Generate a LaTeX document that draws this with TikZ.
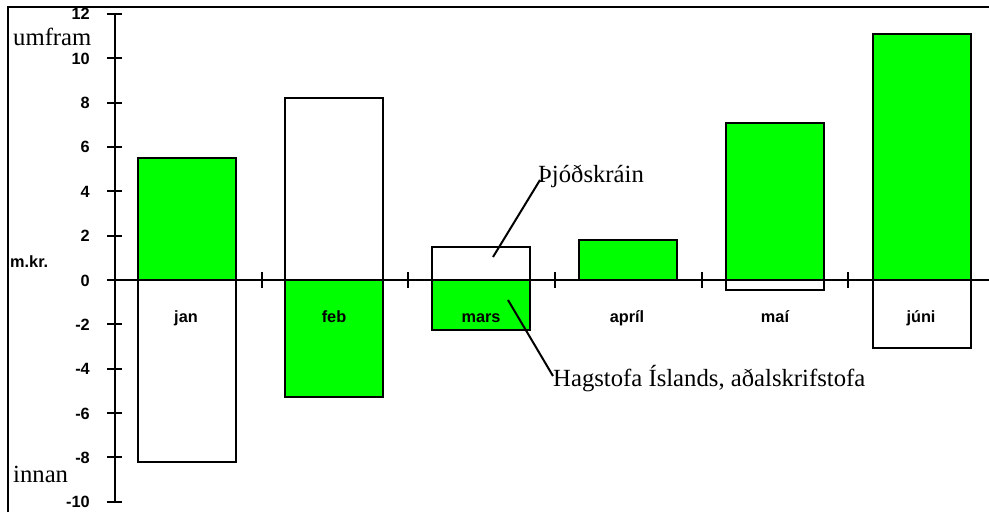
\documentclass[tikz,border=0pt]{standalone}
\usepackage{fontspec}
\setmainfont{Liberation Serif}
\setsansfont{Liberation Sans}
\definecolor{bargreen}{RGB}{0,255,0}
\begin{document}
\begin{tikzpicture}[x=1pt,y=-1pt,
  axisline/.style={line width=2pt},
  greenbar/.style={draw=black,line width=2pt,fill=bargreen},
  whitebar/.style={draw=black,line width=2pt,fill=white},
  numlbl/.style={font=\fontsize{16.3}{18}\selectfont\sffamily\bfseries,inner sep=0pt,anchor=base east},
  catlbl/.style={font=\fontsize{16.3}{18}\selectfont\sffamily\bfseries,inner sep=0pt,anchor=base},
  serlbl/.style={font=\fontsize{24.7}{28}\selectfont,inner sep=0pt,anchor=base west},
  leader/.style={line width=2pt}]
\useasboundingbox (0,0) rectangle (989,512);
\fill[white] (0,0) rectangle (989,512);
% frame
\draw[axisline] (8,512) -- (8,7) -- (989,7);
% bars
\draw[greenbar] (138,280) rectangle (236,158);
\draw[whitebar] (138,280) rectangle (236,462);
\draw[whitebar] (285,280) rectangle (383,98);
\draw[greenbar] (285,280) rectangle (383,397);
\draw[whitebar] (432,280) rectangle (530,247);
\draw[greenbar] (432,280) rectangle (530,330);
\draw[greenbar] (579,280) rectangle (677,240);
\draw[greenbar] (726,280) rectangle (824,123);
\draw[whitebar] (726,280) rectangle (824,290);
\draw[greenbar] (873,280) rectangle (971,34);
\draw[whitebar] (873,280) rectangle (971,348);
% y axis
\draw[axisline] (115,13.8) -- (115,501.8);
\foreach \v in {12,10,...,-10}{
  \pgfmathsetmacro\yy{280-22.18*\v}
  \draw[axisline] (107,\yy) -- (122,\yy);
  \node[numlbl] (n\v) at (90,\yy+6) {\v};
}
% zero line and category ticks
\draw[axisline] (107,280) -- (989,280);
\foreach \xx in {262,408,555,702,848}{
  \draw[axisline] (\xx,272) -- (\xx,288);
}
% category labels
\node[catlbl] (cjan) at (186,322) {jan};
\node[catlbl] (cfeb) at (334,322) {feb};
\node[catlbl] (cmar) at (481,322) {mars};
\node[catlbl] (capr) at (627,322) {apríl};
\node[catlbl] (cmai) at (775,322) {maí};
\node[catlbl] (cjun) at (921,322) {júni};
% axis texts
\node[font=\fontsize{16.3}{18}\selectfont\sffamily\bfseries,inner sep=0pt,anchor=west] (mkr) at (10,262) {m.kr.};
\node[serlbl] (umf) at (13,45) {umfram};
\node[serlbl] (inn) at (13,482) {innan};
% annotations
\coordinate (p1) at (493,257);
\coordinate (p2) at (508,300);
\node[serlbl] (t1) at (538,182) {Þjóðskráin};
\node[serlbl] (t2) at (553,386) {Hagstofa Íslands, aðalskrifstofa};
\draw[leader] (p1) -- ([xshift=2pt,yshift=2pt]t1.base west);
\draw[leader] (p2) -- ([yshift=10pt]t2.base west);
\end{tikzpicture}
\end{document}
